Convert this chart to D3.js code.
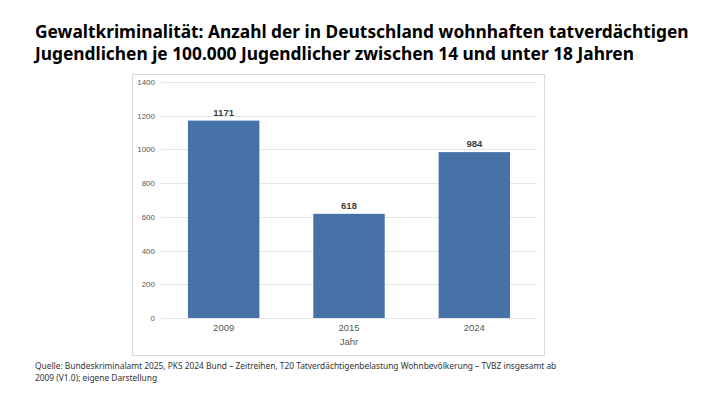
<!DOCTYPE html>
<html>
<head>
    <meta charset="utf-8">
    <title>Gewaltkriminalität Jugendliche</title>
    <script src="https://d3js.org/d3.v7.min.js"></script>
    <style>
        body { margin: 0; background: #fff; }
        svg { display: block; }
    </style>
</head>
<body>
    <div id="chart"></div>
    <script>
        // Daten
        const years = ["2009", "2015", "2024"];
        const values = [1171, 618, 984];
        const yTicks = [0, 200, 400, 600, 800, 1000, 1200, 1400];
        const titleLines = [
            "Gewaltkriminalität: Anzahl der in Deutschland wohnhaften tatverdächtigen",
            "Jugendlichen je 100.000 Jugendlicher zwischen 14 und unter 18 Jahren"
        ];
        const sourceLines = [
            "Quelle: Bundeskriminalamt 2025, PKS 2024 Bund – Zeitreihen, T20 Tatverdächtigenbelastung Wohnbevölkerung – TVBZ insgesamt ab",
            "2009 (V1.0); eigene Darstellung"
        ];

        const W = 710, H = 399;
        const svg = d3.select("#chart").append("svg")
            .attr("width", W)
            .attr("height", H);

        // Schriftgröße so wählen, dass die erste Zeile die Zielbreite hat
        function fitLines(sel, firstWidth, baseSize) {
            const first = sel.filter((d, i) => i === 0).node();
            const w = first.getComputedTextLength();
            const size = baseSize * firstWidth / w;
            sel.attr("font-size", size);
        }

        // Titel
        const title = svg.append("g").selectAll("text")
            .data(titleLines)
            .enter()
            .append("text")
            .attr("x", 35)
            .attr("y", (d, i) => 38 + i * 22)
            .attr("font-family", "'Noto Sans', sans-serif")
            .attr("font-weight", "bold")
            .attr("font-size", 18)
            .attr("fill", "#000")
            .text(d => d);
        fitLines(title, 654, 18);

        // Rahmen des Diagramms
        svg.append("rect")
            .attr("x", 132.5)
            .attr("y", 74.5)
            .attr("width", 412)
            .attr("height", 281)
            .attr("fill", "#fff")
            .attr("stroke", "#d9d9d9");

        const margin = { top: 82, left: 161 };
        const width = 376, height = 236;

        const g = svg.append("g")
            .attr("transform", "translate(" + margin.left + "," + margin.top + ")");

        const x = d3.scaleBand()
            .domain(years)
            .range([0, width])
            .paddingInner(0.43)
            .paddingOuter(0.215);

        const y = d3.scaleLinear()
            .domain([0, 1400])
            .range([height, 0]);

        // Gitterlinien
        g.selectAll(".grid")
            .data(yTicks)
            .enter()
            .append("line")
            .attr("x1", 0)
            .attr("x2", width)
            .attr("y1", d => Math.round(y(d)) + 0.5)
            .attr("y2", d => Math.round(y(d)) + 0.5)
            .attr("stroke", "#e6e6e6");

        // y-Achse
        const yAxis = g.append("g")
            .call(d3.axisLeft(y).tickValues(yTicks).tickFormat(d3.format("d")).tickSize(0).tickPadding(6));
        yAxis.select(".domain").remove();
        yAxis.selectAll("text")
            .attr("font-family", "'Liberation Sans', Arial, sans-serif")
            .attr("font-size", 8)
            .attr("fill", "#595959");

        // Balken
        g.selectAll(".bar")
            .data(values)
            .enter()
            .append("rect")
            .attr("class", "bar")
            .attr("x", (d, i) => x(years[i]))
            .attr("y", d => y(d))
            .attr("width", x.bandwidth())
            .attr("height", d => height - y(d))
            .attr("fill", "#4672a8");

        // Werte über den Balken
        g.selectAll(".label")
            .data(values)
            .enter()
            .append("text")
            .attr("x", (d, i) => x(years[i]) + x.bandwidth() / 2)
            .attr("y", d => y(d) - 5)
            .attr("text-anchor", "middle")
            .attr("font-family", "'Liberation Sans', Arial, sans-serif")
            .attr("font-weight", "bold")
            .attr("font-size", 9.5)
            .attr("fill", "#404040")
            .text(d => d);

        // x-Achse
        const xAxis = g.append("g")
            .attr("transform", "translate(0," + height + ")")
            .call(d3.axisBottom(x).tickSize(0).tickPadding(6));
        xAxis.select(".domain").remove();
        xAxis.selectAll("text")
            .attr("font-family", "'Liberation Sans', Arial, sans-serif")
            .attr("font-size", 9.5)
            .attr("fill", "#595959");

        g.append("text")
            .attr("x", width / 2)
            .attr("y", height + 27)
            .attr("text-anchor", "middle")
            .attr("font-family", "'Liberation Sans', Arial, sans-serif")
            .attr("font-size", 9.5)
            .attr("fill", "#595959")
            .text("Jahr");

        // Quelle
        const source = svg.append("g").selectAll("text")
            .data(sourceLines)
            .enter()
            .append("text")
            .attr("x", 35)
            .attr("y", (d, i) => 369 + i * 11.5)
            .attr("font-family", "'Noto Sans', sans-serif")
            .attr("font-size", 8.8)
            .attr("fill", "#333")
            .text(d => d);
        fitLines(source, 522, 8.8);
    </script>
</body>
</html>
